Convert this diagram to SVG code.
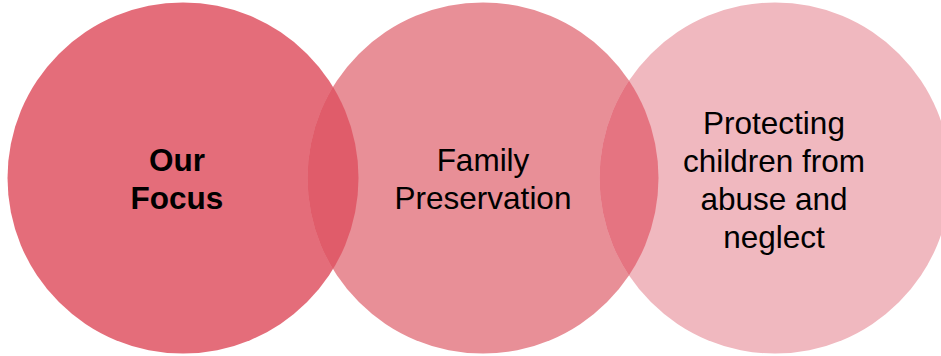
<svg xmlns="http://www.w3.org/2000/svg" width="941" height="356" viewBox="0 0 941 356">
  <style>
    .lbl { font-family: "Liberation Sans", Arial, sans-serif; font-size: 31.5px; fill: #000; text-anchor: middle; }
    .b { font-weight: bold; }
  </style>
  <defs>
    <clipPath id="c1"><circle cx="183" cy="178" r="175.5"/></clipPath>
    <clipPath id="c2"><circle cx="483" cy="178" r="175.5"/></clipPath>
  </defs>
  <rect width="941" height="356" fill="#fff"/>
  <g id="node-focus">
    <circle cx="183" cy="178" r="175.5" fill="#E46D7A"/>
  </g>
  <g id="node-family">
    <circle cx="483" cy="178" r="175.5" fill="#E88F97"/>
  </g>
  <g id="node-protect">
    <circle cx="775" cy="178" r="175.5" fill="#F0B8BF"/>
  </g>
  <g id="overlaps">
    <circle cx="483" cy="178" r="175.5" fill="#E05C6A" clip-path="url(#c1)"/>
    <circle cx="775" cy="178" r="175.5" fill="#E57481" clip-path="url(#c2)"/>
  </g>
  <g id="labels">
    <text class="lbl b" x="177" y="171">Our</text>
    <text class="lbl b" x="177" y="209">Focus</text>
    <text class="lbl" x="483" y="171">Family</text>
    <text class="lbl" x="483" y="209">Preservation</text>
    <text class="lbl" x="774" y="134">Protecting</text>
    <text class="lbl" x="774" y="172">children from</text>
    <text class="lbl" x="774" y="210">abuse and</text>
    <text class="lbl" x="774" y="248">neglect</text>
  </g>
  <g id="connectors"/>
</svg>
